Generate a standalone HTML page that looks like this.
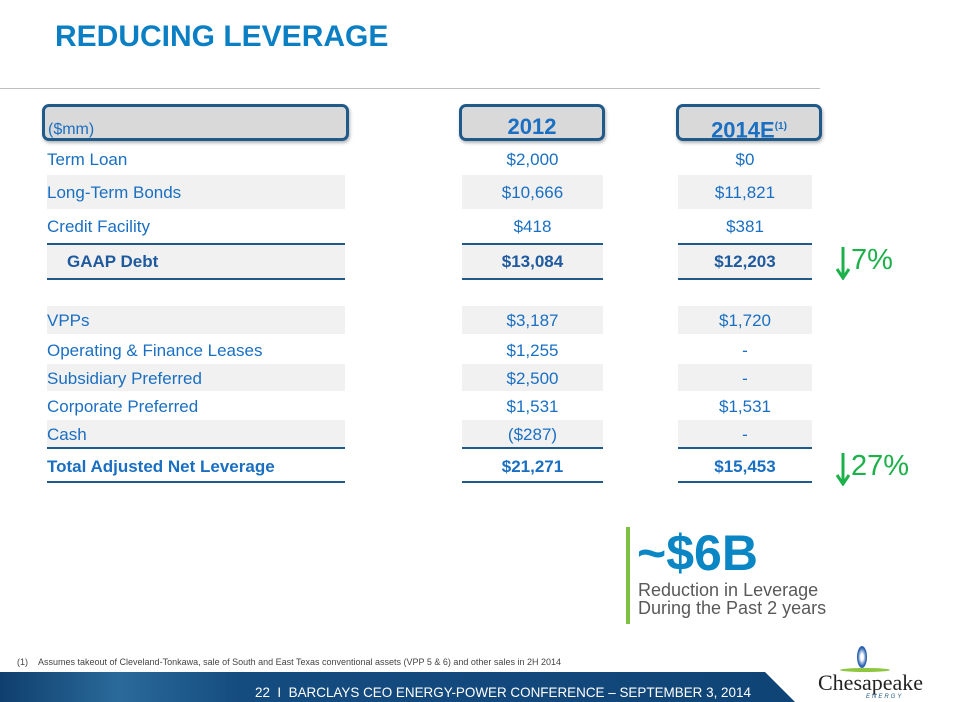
<!DOCTYPE html>
<html><head><meta charset="utf-8"><style>
body{margin:0;width:956px;height:702px;position:relative;overflow:hidden;background:#fff;font-family:"Liberation Sans",sans-serif}
.a{position:absolute}
.t{color:#1a6fc2;font-size:17px;white-space:nowrap}
.sh{background:#f1f1f1}
.hb{position:absolute;background:#d9d9d9;border:3px solid #1f5a8a;border-radius:7px;box-sizing:border-box;box-shadow:1px 2px 3px rgba(0,0,0,.3)}
.c{text-align:center}
.ln{position:absolute;height:2px;background:#1f5a8a}
.b{font-weight:bold}
</style></head><body>
<div class="a b" style="left:55px;top:20px;font-size:30px;color:#0b7fc4">REDUCING LEVERAGE</div>
<div class="a" style="left:0;top:88px;width:820px;height:1px;background:#bfbfbf"></div>

<div class="hb" style="left:42px;top:104px;width:307px;height:37px"><span class="t" style="position:absolute;left:3px;top:14px;font-size:16px">($mm)</span></div>
<div class="hb c b" style="left:459px;top:104px;width:146px;height:37px;color:#1a6fc2;font-size:22px;line-height:40px">2012</div>
<div class="hb c b" style="left:676px;top:104px;width:146px;height:37px;color:#1a6fc2;font-size:22px;line-height:40px">2014E<sup style="font-size:10px">(1)</sup></div>

<div id="rows"></div>

<svg class="a" style="left:835px;top:246px" width="16" height="34"><path d="M8 1V31M2 23L8 32L14 23" stroke="#1db14b" stroke-width="3" fill="none"/></svg>
<div class="a" style="left:851px;top:244px;color:#1db14b;font-size:29px">7%</div>
<svg class="a" style="left:835px;top:452px" width="16" height="34"><path d="M8 1V31M2 23L8 32L14 23" stroke="#1db14b" stroke-width="3" fill="none"/></svg>
<div class="a" style="left:851px;top:450px;color:#1db14b;font-size:29px">27%</div>

<div class="a" style="left:626px;top:527px;width:4px;height:97px;background:#7dc242"></div>
<div class="a b" style="left:637px;top:524px;font-size:50px;color:#0a86c4">~$6B</div>
<div class="a" style="left:638px;top:581px;font-size:18px;line-height:18px;color:#595959">Reduction in Leverage<br>During the Past 2 years</div>

<div class="a" style="left:17px;top:657px;font-size:9px;color:#444">(1)&nbsp;&nbsp;&nbsp;&nbsp;Assumes takeout of Cleveland-Tonkawa, sale of South and East Texas conventional assets (VPP 5 &amp; 6) and other sales in 2H 2014</div>
<svg class="a" style="left:0;top:672px" width="800" height="30"><defs><linearGradient id="g" x1="0" x2="1"><stop offset="0" stop-color="#0f3f6e"/><stop offset=".15" stop-color="#2a6a9a"/><stop offset=".3" stop-color="#154c80"/><stop offset="1" stop-color="#0f4476"/></linearGradient></defs><polygon points="0,0 765,0 795,30 0,30" fill="url(#g)"/></svg>
<div class="a" style="left:255px;top:684px;font-size:14px;color:#fff;white-space:nowrap;transform:scaleX(0.96);transform-origin:left">22 &nbsp;I &nbsp;BARCLAYS CEO ENERGY-POWER CONFERENCE – SEPTEMBER 3, 2014</div>
<div class="a" style="left:818px;top:646px;width:90px;height:56px">
<div class="a" style="left:39px;top:0;width:10px;height:22px;border-radius:50%;background:radial-gradient(#fff 20%,#2a62b0 60%)"></div>
<div class="a" style="left:22px;top:22px;width:50px;height:4px;border-radius:50%;background:#8dc63f"></div>
<div class="a" style="left:0;top:24px;font-family:'Liberation Serif',serif;font-size:22px;color:#222">Chesapeake</div>
<div class="a" style="left:48px;top:48px;font-size:6px;letter-spacing:2px;color:#1f5a8a;font-style:italic">ENERGY</div>
</div>

<script>
const labels=["Term Loan","Long-Term Bonds","Credit Facility","GAAP Debt","VPPs","Operating & Finance Leases","Subsidiary Preferred","Corporate Preferred","Cash","Total Adjusted Net Leverage"];
const v2012=["$2,000","$10,666","$418","$13,084","$3,187","$1,255","$2,500","$1,531","($287)","$21,271"];
const v2014=["$0","$11,821","$381","$12,203","$1,720","-","-","$1,531","-","$15,453"];
const tops=[142,175,209,244,306,336,364,392,420,450];
const hts=[33,34,34,34,28,27,27,27,27,31];
const shaded=[0,1,0,1,1,0,1,0,1,0];
const cols=[[47,298],[462,141],[678,134]];
const root=document.getElementById('rows');
labels.forEach((l,i)=>{
  const bold=(i===3||i===9);
  [l,v2012[i],v2014[i]].forEach((txt,j)=>{
    const d=document.createElement('div');
    
    
    d.className='a t'+(shaded[i]?' sh':'')+(j?' c':'')+(bold?' b':'');
    d.style.left=cols[j][0]+'px';d.style.top=tops[i]+'px';d.style.width=cols[j][1]+'px';
    d.style.height=hts[i]+'px';d.style.lineHeight=(hts[i]+2)+'px';
    if(j===0&&i===3)d.style.paddingLeft='20px',d.style.width=(cols[j][1]-20)+'px';
    if(i===3)d.style.color='#1f5a9e';
    d.textContent=txt;root.appendChild(d);
  });
});
[[243],[278],[447],[481]].forEach(([y])=>{
  cols.forEach((c,j)=>{
    const ln=document.createElement('div');
    
    
    ln.className='ln';ln.style.left=c[0]+'px';ln.style.width=c[1]+'px';ln.style.top=y+'px';
    root.appendChild(ln);
  });
});
</script>
</body></html>
